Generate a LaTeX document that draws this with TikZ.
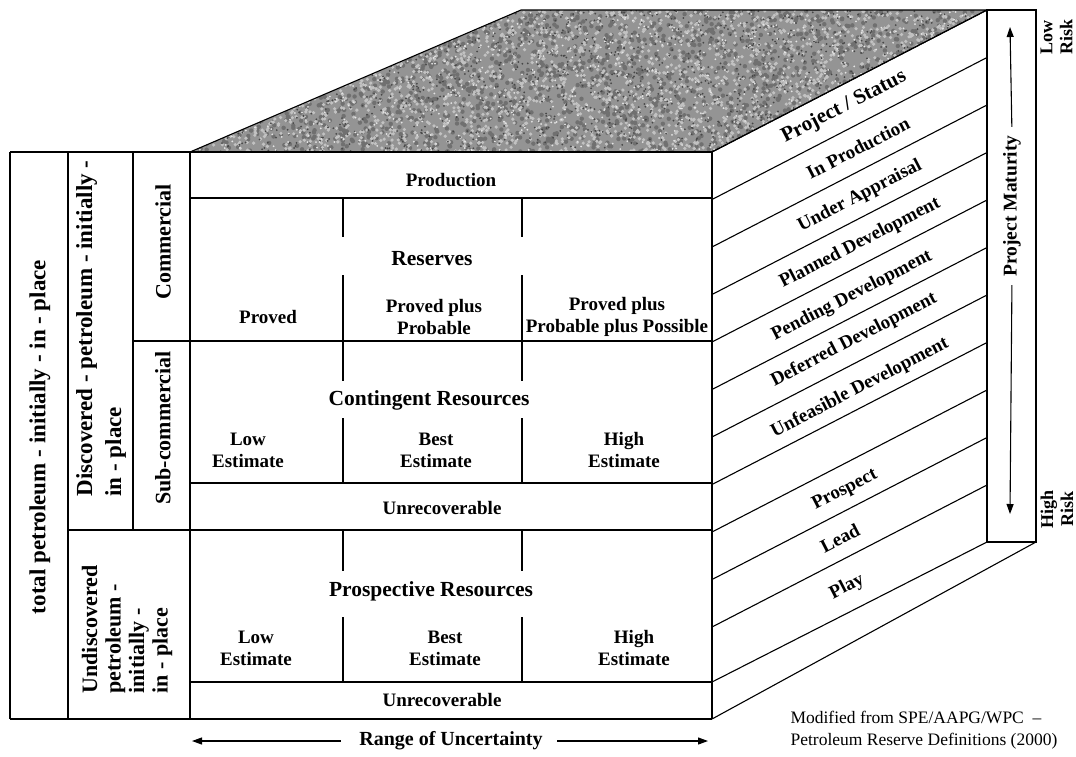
\documentclass[tikz,border=0pt]{standalone}
\usepackage{fontspec}
\setmainfont{Liberation Serif}
\usetikzlibrary{arrows.meta}
\begin{document}
\begin{tikzpicture}[x=1pt,y=-1pt, line width=1.1pt,
  lbl/.style={font=\bfseries\fontsize{19}{22}\selectfont, align=center, inner sep=0pt},
  ttl/.style={font=\bfseries\fontsize{21.5}{24}\selectfont, align=center, inner sep=0pt},
  sidetxt/.style={font=\bfseries\fontsize{19}{21}\selectfont, rotate=27.3, inner sep=0pt},
  vert/.style={font=\bfseries\fontsize{22}{24}\selectfont, rotate=90, inner sep=0pt},
  risk/.style={font=\bfseries\fontsize{18}{20}\selectfont, rotate=90, inner sep=0pt, align=center},
  arr/.style={-{Triangle[length=10pt,width=7pt]}, line width=1.1pt}
]
\useasboundingbox (0,0) rectangle (1076,756);
\fill[white] (0,0) rectangle (1076,756);

% ---------- top face (granite texture)
\coordinate (tfl) at (190,152);
\coordinate (tbl) at (521,10);
\coordinate (tbr) at (987,10);
\coordinate (tfr) at (712,152);
\begin{scope}
  \clip (tfl) -- (tbl) -- (tbr) -- (tfr) -- cycle;
  \fill[black!42] (180,0) rectangle (1000,160);
  \pgfmathsetseed{7}
  \foreach \i in {1,...,2000}{
    \pgfmathsetmacro\xx{190+797*rnd}
    \pgfmathsetmacro\yy{10+142*rnd}
    \fill[black!56] (\xx,\yy) circle (2.2);
  }
  \foreach \i in {1,...,2600}{
    \pgfmathsetmacro\xx{190+797*rnd}
    \pgfmathsetmacro\yy{10+142*rnd}
    \fill[black!24] (\xx,\yy) circle (1.8);
  }
  \foreach \i in {1,...,1400}{
    \pgfmathsetmacro\xx{190+797*rnd}
    \pgfmathsetmacro\yy{10+142*rnd}
    \fill[black!72] (\xx,\yy) circle (1.0);
  }
  \foreach \i in {1,...,900}{
    \pgfmathsetmacro\xx{190+797*rnd}
    \pgfmathsetmacro\yy{10+142*rnd}
    \fill[black!10] (\xx,\yy) circle (1.0);
  }
\end{scope}
\draw (tfl) -- (tbl) -- (tbr) -- (tfr);

% ---------- side face
\foreach \k in {0,...,10}{
  \draw (712,{152+47.5*\k}) -- (987,{10+47.5*\k});
}
\draw (712,682) -- (987,542);
\draw (712,719) -- (1036,542);
\draw (712,152) -- (712,719);

% ---------- project maturity box
\draw (987,10) rectangle (1036,542);
\node[vert, font=\bfseries\fontsize{19.5}{22}\selectfont] (pm) at (1012,206) {Project Maturity};
\coordinate (pmTop) at (1010,27);
\coordinate (pmBot) at (1010,514);
\draw[arr, shorten <=8pt] (pm.east) -- (pmTop);
\draw[arr, shorten <=8pt] (pm.west) -- (pmBot);
\node[risk, anchor=north] (lowrisk) at (1040,37) {Low\\Risk};
\node[risk, anchor=north] (highrisk) at (1040,509) {High\\Risk};

% ---------- left columns
\draw (10,152) -- (712,152);
\draw (10,719) -- (712,719);
\draw (10,152) -- (10,719);
\draw (68,152) -- (68,719);
\draw (133,152) -- (133,530);
\draw (190,152) -- (190,719);
\draw (68,530) -- (712,530);
\draw (133,341) -- (712,341);
\draw (190,198) -- (712,198);
\draw (190,483) -- (712,483);
\draw (190,682) -- (712,682);

\node[vert, font=\bfseries\fontsize{23}{25}\selectfont] (total) at (40,437) {total petroleum - initially - in - place};
\node[vert, anchor=west, align=left, font=\bfseries\fontsize{23}{29}\selectfont] (disc) at (101,497)
  {Discovered - petroleum - initially -\\in - place};
\node[vert, anchor=west, align=left, font=\bfseries\fontsize{22}{23.5}\selectfont] (undisc) at (127,694)
  {Undiscovered\\petroleum -\\initially -\\in - place};
\node[vert] (comm) at (163,242) {Commercial};
\node[vert] (subcomm) at (163,428) {Sub-commercial};

% ---------- dividers with gaps
\foreach \xd in {343,522}{
  \draw (\xd,198) -- (\xd,237);
  \draw (\xd,275) -- (\xd,341);
  \draw (\xd,341) -- (\xd,381);
  \draw (\xd,418) -- (\xd,483);
  \draw (\xd,530) -- (\xd,571);
  \draw (\xd,617) -- (\xd,682);
}

% ---------- front face texts
\node[lbl] (prod) at (451,180) {Production};
\node[ttl] (res) at (432,259) {Reserves};
\node[lbl] (proved) at (268,317) {Proved};
\node[lbl] (p2) at (434,317) {Proved plus\\Probable};
\node[lbl] (p3) at (617,317) {Proved plus\\Probable plus Possible};
\node[ttl] (cont) at (429,400) {Contingent Resources};
\node[lbl] (clow) at (248,450) {Low\\Estimate};
\node[lbl] (cbest) at (436,450) {Best\\Estimate};
\node[lbl] (chigh) at (624,450) {High\\Estimate};
\node[lbl] (unrec1) at (442,508) {Unrecoverable};
\node[ttl] (prosp) at (431,591) {Prospective Resources};
\node[lbl] (plow) at (256,648) {Low\\Estimate};
\node[lbl] (pbest) at (445,648) {Best\\Estimate};
\node[lbl] (phigh) at (634,648) {High\\Estimate};
\node[lbl] (unrec2) at (442,700) {Unrecoverable};

% ---------- side face texts
\node[sidetxt, font=\bfseries\fontsize{21}{23}\selectfont] (ps) at (844,107) {Project / Status};
\node[sidetxt] (inprod) at (858,148) {In Production};
\node[sidetxt] (ua) at (860,196) {Under Appraisal};
\node[sidetxt] (pd) at (860,243) {Planned Development};
\node[sidetxt] (pend) at (852,296) {Pending Development};
\node[sidetxt] (defd) at (854,340) {Deferred Development};
\node[sidetxt] (unf) at (860,388) {Unfeasible Development};
\node[sidetxt] (prospect) at (845,490) {Prospect};
\node[sidetxt] (lead) at (840,538) {Lead};
\node[sidetxt] (play) at (847,587) {Play};

% ---------- range of uncertainty
\node[lbl, font=\bfseries\fontsize{20}{22}\selectfont] (rng) at (451,741) {Range of Uncertainty};
\coordinate (rL) at (192,741);
\coordinate (rR) at (708,741);
\draw[arr, shorten <=18pt] (rng.west) -- (rL);
\draw[arr, shorten <=14pt] (rng.east) -- (rR);

% ---------- source
\node[anchor=west, align=left, inner sep=0pt, font=\fontsize{17.5}{22}\selectfont] (src) at (790,730)
  {Modified from SPE/AAPG/WPC~~--\\Petroleum Reserve Definitions (2000)};
\end{tikzpicture}
\end{document}
